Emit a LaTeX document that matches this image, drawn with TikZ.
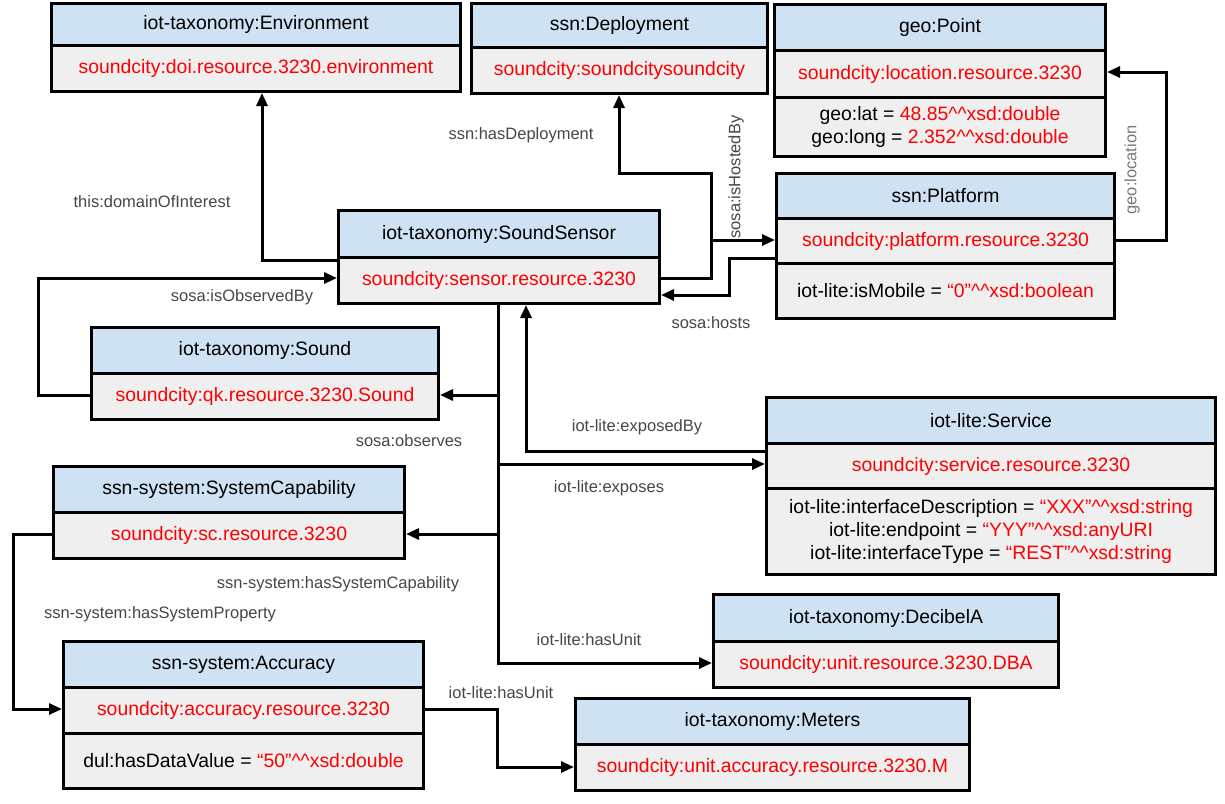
\documentclass[tikz,border=0pt]{standalone}
\usepackage{fontspec}
\setmainfont{Liberation Sans}
\usetikzlibrary{arrows.meta}
\definecolor{hdrblue}{RGB}{207,226,243}
\definecolor{bodgray}{RGB}{239,239,239}
\definecolor{lblgray}{RGB}{70,70,70}
\definecolor{lblgraylight}{RGB}{120,120,120}
\newcommand{\dc}{\textasciicircum\textasciicircum}
\begin{document}
\begin{tikzpicture}[x=1pt,y=-1pt,
  compbase/.style={draw=black, line width=3pt, anchor=north west, inner sep=0pt, align=center,
    font=\fontsize{19.4}{23}\selectfont},
  hdr/.style={compbase, fill=hdrblue, text=black},
  bod/.style={compbase, fill=bodgray, text=red},
  att/.style={compbase, fill=bodgray, text=black},
  lbl/.style={font=\fontsize{16.5}{19}\selectfont, text=lblgray, inner sep=0pt},
  lbllight/.style={lbl, text=lblgraylight},
  arr/.style={line width=3pt, -{Triangle[length=13pt,width=11pt]}},
  ln/.style={line width=3pt}]
\useasboundingbox (0,0) rectangle (1225,803);

% Environment
\node[hdr, minimum width=409pt, minimum height=42pt] (envH) at (50,2) {iot-taxonomy:Environment};
\node[bod, minimum width=409pt, minimum height=46pt] (envB) at (50,44) {soundcity:doi.resource.3230.environment};
% Deployment
\node[hdr, minimum width=296pt, minimum height=44pt] (depH) at (470,2) {ssn:Deployment};
\node[bod, minimum width=296pt, minimum height=46pt] (depB) at (470,46) {soundcity:soundcitysoundcity};
% geo:Point
\node[hdr, minimum width=331pt, minimum height=46pt] (ptH) at (773,3) {geo:Point};
\node[bod, minimum width=331pt, minimum height=47pt] (ptB) at (773,49) {soundcity:location.resource.3230};
\node[att, minimum width=331pt, minimum height=59pt] (ptA) at (773,96) {geo:lat = \textcolor{red}{48.85\dc xsd:double}\\geo:long = \textcolor{red}{2.352\dc xsd:double}};
% Platform
\node[hdr, minimum width=338pt, minimum height=45pt] (platH) at (775,172) {ssn:Platform};
\node[bod, minimum width=338pt, minimum height=45pt] (platB) at (775,217) {soundcity:platform.resource.3230};
\node[att, minimum width=338pt, minimum height=55pt] (platA) at (775,262) {iot-lite:isMobile = \textcolor{red}{“0”\dc xsd:boolean}};
% SoundSensor
\node[hdr, minimum width=321pt, minimum height=47pt] (ssH) at (337,209) {iot-taxonomy:SoundSensor};
\node[bod, minimum width=321pt, minimum height=46pt] (ssB) at (337,256) {soundcity:sensor.resource.3230};
% Sound
\node[hdr, minimum width=347pt, minimum height=46pt] (sndH) at (90,326) {iot-taxonomy:Sound};
\node[bod, minimum width=347pt, minimum height=46pt] (sndB) at (90,372) {soundcity:qk.resource.3230.Sound};
% Service
\node[hdr, minimum width=449pt, minimum height=46pt] (svcH) at (765,396) {iot-lite:Service};
\node[bod, minimum width=449pt, minimum height=45pt] (svcB) at (765,442) {soundcity:service.resource.3230};
\node[att, minimum width=449pt, minimum height=86pt] (svcA) at (765,487) {iot-lite:interfaceDescription = \textcolor{red}{“XXX”\dc xsd:string}\\iot-lite:endpoint = \textcolor{red}{“YYY”\dc xsd:anyURI}\\iot-lite:interfaceType = \textcolor{red}{“REST”\dc xsd:string}};
% SystemCapability
\node[hdr, minimum width=351pt, minimum height=46pt] (scH) at (52,465) {ssn-system:SystemCapability};
\node[bod, minimum width=351pt, minimum height=46pt] (scB) at (52,511) {soundcity:sc.resource.3230};
% DecibelA
\node[hdr, minimum width=345pt, minimum height=47pt] (decH) at (712,593) {iot-taxonomy:DecibelA};
\node[bod, minimum width=345pt, minimum height=46pt] (decB) at (712,640) {soundcity:unit.resource.3230.DBA};
% Accuracy
\node[hdr, minimum width=360pt, minimum height=46pt] (accH) at (62,640) {ssn-system:Accuracy};
\node[bod, minimum width=360pt, minimum height=46pt] (accB) at (62,686) {soundcity:accuracy.resource.3230};
\node[att, minimum width=360pt, minimum height=55pt] (accA) at (62,732) {dul:hasDataValue = \textcolor{red}{“50”\dc xsd:double}};
% Meters
\node[hdr, minimum width=394pt, minimum height=46pt] (metH) at (574,697) {iot-taxonomy:Meters};
\node[bod, minimum width=394pt, minimum height=46pt] (metB) at (574,743) {soundcity:unit.accuracy.resource.3230.M};

% connectors
\draw[arr] (ssB.west |- 0,260) -| (envB.south -| 262,0);
\draw[arr] (sndB.west |- 0,395) -- (38,395) |- (ssB.west |- 0,278);
\draw[arr] (ssB.east |- 0,278) -| (711,173) -| (depB.south -| 619,0);
\coordinate (hostJ) at (711,240);
\draw[arr] (hostJ) -- (platB.west |- 0,240);
\draw[arr] (platB.west |- 0,258) -| (729,295) -- (ssB.east |- 0,295);
\draw[arr] (platB.east |- 0,240) -| (1166,72) -- (ptB.east |- 0,72);
\draw[arr] (ssB.south -| 498,0) |- (decB.west |- 0,663);
\coordinate (obsJ) at (498,395);
\draw[arr] (obsJ) -- (sndB.east |- 0,395);
\coordinate (expJ) at (498,464);
\draw[arr] (expJ) -- (svcB.west |- 0,464);
\draw[arr] (svcB.west |- 0,451) -| (ssB.south -| 526,0);
\coordinate (capJ) at (498,534);
\draw[arr] (capJ) -- (scB.east |- 0,534);
\draw[arr] (scB.west |- 0,534) -| (13,709) -- (accB.west |- 0,709);
\draw[arr] (accB.east |- 0,709) -| (497,767) -- (metB.west |- 0,767);

% labels
\node[lbl] (lDoi) at (152,202) {this:domainOfInterest};
\node[lbl] (lDep) at (521,135) {ssn:hasDeployment};
\node[lbl, rotate=90] (lHost) at (736,177) {sosa:isHostedBy};
\node[lbllight, rotate=90] (lGeo) at (1132,170) {geo:location};
\node[lbl] (lObsBy) at (242,297) {sosa:isObservedBy};
\node[lbl] (lHosts) at (711,323) {sosa:hosts};
\node[lbl] (lObs) at (409,441) {sosa:observes};
\node[lbl] (lExpBy) at (637,427) {iot-lite:exposedBy};
\node[lbl] (lExp) at (609,488) {iot-lite:exposes};
\node[lbl] (lCap) at (338,584) {ssn-system:hasSystemCapability};
\node[lbl] (lProp) at (160,614) {ssn-system:hasSystemProperty};
\node[lbl] (lUnitA) at (589,640) {iot-lite:hasUnit};
\node[lbl] (lUnitB) at (501,693) {iot-lite:hasUnit};
\end{tikzpicture}
\end{document}
